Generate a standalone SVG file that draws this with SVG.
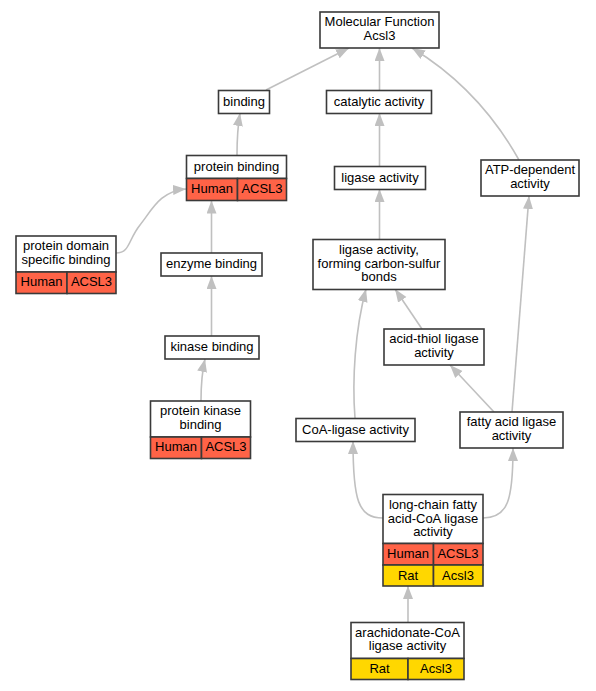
<svg xmlns="http://www.w3.org/2000/svg" width="596" height="691" viewBox="0 0 596 691">
<defs>
<style>
.b{fill:#fff;stroke:#3a3a3a;stroke-width:1.6}
.h{fill:#ff6347;stroke:#3a3a3a;stroke-width:1.6}
.r{fill:#ffd700;stroke:#3a3a3a;stroke-width:1.6}
text{font-family:"Liberation Sans",Arial,sans-serif;font-size:13px;fill:#000;text-anchor:middle}
.e{fill:none;stroke:#c0c0c0;stroke-width:1.6;marker-end:url(#a)}
</style>
<marker id="a" markerUnits="userSpaceOnUse" markerWidth="14" markerHeight="11" refX="13" refY="5" orient="auto">
<path d="M0,0 L13,5 L0,10 z" fill="#c0c0c0"/>
</marker>
</defs>
<rect width="596" height="691" fill="#fff"/>
<g id="edges">
<path class="e" d="M266,90 L349,48"/>
<path class="e" d="M379.5,90 L379.5,48"/>
<path class="e" d="M519,160 C500,126 468,82 412,48"/>
<path class="e" d="M237,155 C237,140 238,125 240,113"/>
<path class="e" d="M379.5,166 L379.5,113"/>
<path class="e" d="M379.5,239 L379.5,189"/>
<path class="e" d="M512,412 L529,196"/>
<path class="e" d="M494,412 L450,365"/>
<path class="e" d="M422,329 L395,289"/>
<path class="e" d="M355,418 C352,380 355,330 366,289"/>
<path class="e" d="M383,518 C358,518 353,500 353,441"/>
<path class="e" d="M483,518 C508,518 513,500 513,448"/>
<path class="e" d="M408,622 L408,586"/>
<path class="e" d="M116,253 C130,253 128,240 140,225 C152,210 160,191 186,189"/>
<path class="e" d="M211.5,253 L211.5,200.5"/>
<path class="e" d="M211.5,336 L211.5,276"/>
<path class="e" d="M201,401 C201,385 202,372 205,359"/>
</g>
<g id="mf">
<rect class="b" x="320" y="12" width="119" height="36"/>
<text x="379.5" y="26">Molecular Function</text>
<text x="379.5" y="39.5">Acsl3</text>
</g>
<g id="binding">
<rect class="b" x="218.5" y="90.5" width="51" height="23"/>
<text x="244" y="105.5">binding</text>
</g>
<g id="catalytic">
<rect class="b" x="326.5" y="90.5" width="105" height="23"/>
<text x="379" y="105.5">catalytic activity</text>
</g>
<g id="protein_binding">
<rect class="b" x="186.5" y="155.5" width="100" height="23"/>
<rect class="h" x="186.5" y="178.5" width="51" height="22"/>
<rect class="h" x="237.5" y="178.5" width="49" height="22"/>
<text x="236.5" y="170.5">protein binding</text>
<text x="212" y="192.5">Human</text>
<text x="262" y="192.5">ACSL3</text>
</g>
<g id="ligase">
<rect class="b" x="334.5" y="166.5" width="91" height="23"/>
<text x="380" y="181.5">ligase activity</text>
</g>
<g id="atp">
<rect class="b" x="481" y="160" width="98" height="36"/>
<text x="530" y="174">ATP-dependent</text>
<text x="530" y="187.5">activity</text>
</g>
<g id="domain">
<rect class="b" x="16" y="236" width="100" height="36"/>
<rect class="h" x="16" y="272" width="51" height="21.5"/>
<rect class="h" x="67" y="272" width="49" height="21.5"/>
<text x="66" y="250">protein domain</text>
<text x="66" y="263.5">specific binding</text>
<text x="41.5" y="285.5">Human</text>
<text x="91.5" y="285.5">ACSL3</text>
</g>
<g id="enzyme">
<rect class="b" x="161" y="253" width="101" height="23"/>
<text x="211.5" y="268">enzyme binding</text>
</g>
<g id="kinase">
<rect class="b" x="165" y="336" width="94" height="23"/>
<text x="212" y="351">kinase binding</text>
</g>
<g id="pkb">
<rect class="b" x="150.5" y="401" width="100" height="36"/>
<rect class="h" x="150.5" y="437" width="51" height="21.5"/>
<rect class="h" x="201.5" y="437" width="49" height="21.5"/>
<text x="200.5" y="415">protein kinase</text>
<text x="200.5" y="428.5">binding</text>
<text x="176" y="451">Human</text>
<text x="226" y="451">ACSL3</text>
</g>
<g id="forming">
<rect class="b" x="313" y="239.5" width="132" height="50"/>
<text x="379" y="254">ligase activity,</text>
<text x="379" y="267.5">forming carbon-sulfur</text>
<text x="379" y="281">bonds</text>
</g>
<g id="acidthiol">
<rect class="b" x="384" y="329" width="100" height="36"/>
<text x="434" y="343">acid-thiol ligase</text>
<text x="434" y="356.5">activity</text>
</g>
<g id="coa">
<rect class="b" x="296" y="418.5" width="119" height="23"/>
<text x="355.5" y="433.5">CoA-ligase activity</text>
</g>
<g id="fatty">
<rect class="b" x="460" y="412" width="103" height="36"/>
<text x="511.5" y="426">fatty acid ligase</text>
<text x="511.5" y="439.5">activity</text>
</g>
<g id="longchain">
<rect class="b" x="383" y="494.5" width="100" height="49"/>
<rect class="h" x="383" y="543.5" width="50.5" height="21.5"/>
<rect class="h" x="433.5" y="543.5" width="49.5" height="21.5"/>
<rect class="r" x="383" y="565" width="50.5" height="21"/>
<rect class="r" x="433.5" y="565" width="49.5" height="21"/>
<text x="433" y="509">long-chain fatty</text>
<text x="433" y="522.5">acid-CoA ligase</text>
<text x="433" y="536">activity</text>
<text x="408" y="558">Human</text>
<text x="458" y="558">ACSL3</text>
<text x="408" y="579.5">Rat</text>
<text x="458" y="579.5">Acsl3</text>
</g>
<g id="arach">
<rect class="b" x="351" y="622.5" width="113" height="36"/>
<rect class="r" x="351" y="658.5" width="57" height="21"/>
<rect class="r" x="408" y="658.5" width="56" height="21"/>
<text x="407.5" y="636.5">arachidonate-CoA</text>
<text x="407.5" y="650">ligase activity</text>
<text x="379.5" y="673">Rat</text>
<text x="436" y="673">Acsl3</text>
</g>
</svg>
